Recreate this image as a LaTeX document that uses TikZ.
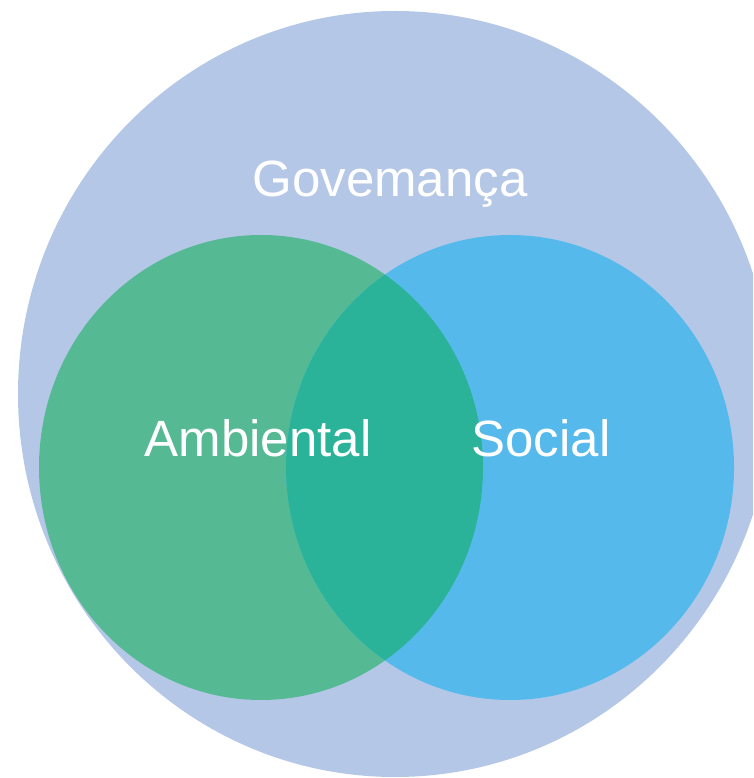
\documentclass[tikz,border=0pt]{standalone}
\usepackage{fontspec}
\setmainfont{Liberation Sans}
\definecolor{govc}{HTML}{B4C7E7}
\definecolor{ambc}{HTML}{55BA94}
\definecolor{socc}{HTML}{55BAEB}
\definecolor{ovlc}{HTML}{2AB399}
\tikzset{
  lbl/.style={text=white, font=\fontsize{51}{60}\selectfont, inner sep=0pt, anchor=base}
}
\begin{document}
\begin{tikzpicture}[x=1pt,y=1pt]
\useasboundingbox (0,0) rectangle (753,778);
\begin{scope}
\clip (0,0) rectangle (753,778);
\fill[govc] (395,384) ellipse [x radius=377, y radius=383];
\fill[ambc] (261,310.5) ellipse [x radius=222, y radius=232.5];
\fill[socc] (510,310.5) ellipse [x radius=224, y radius=232.5];
\begin{scope}
\clip (261,310.5) ellipse [x radius=222, y radius=232.5];
\fill[ovlc] (510,310.5) ellipse [x radius=224, y radius=232.5];
\end{scope}
\end{scope}
\node[lbl] (gov) at (390,581) {Govemança};
\node[lbl] (amb) at (258,321) {Ambiental};
\node[lbl] (soc) at (541,321) {Social};
\end{tikzpicture}
\end{document}
